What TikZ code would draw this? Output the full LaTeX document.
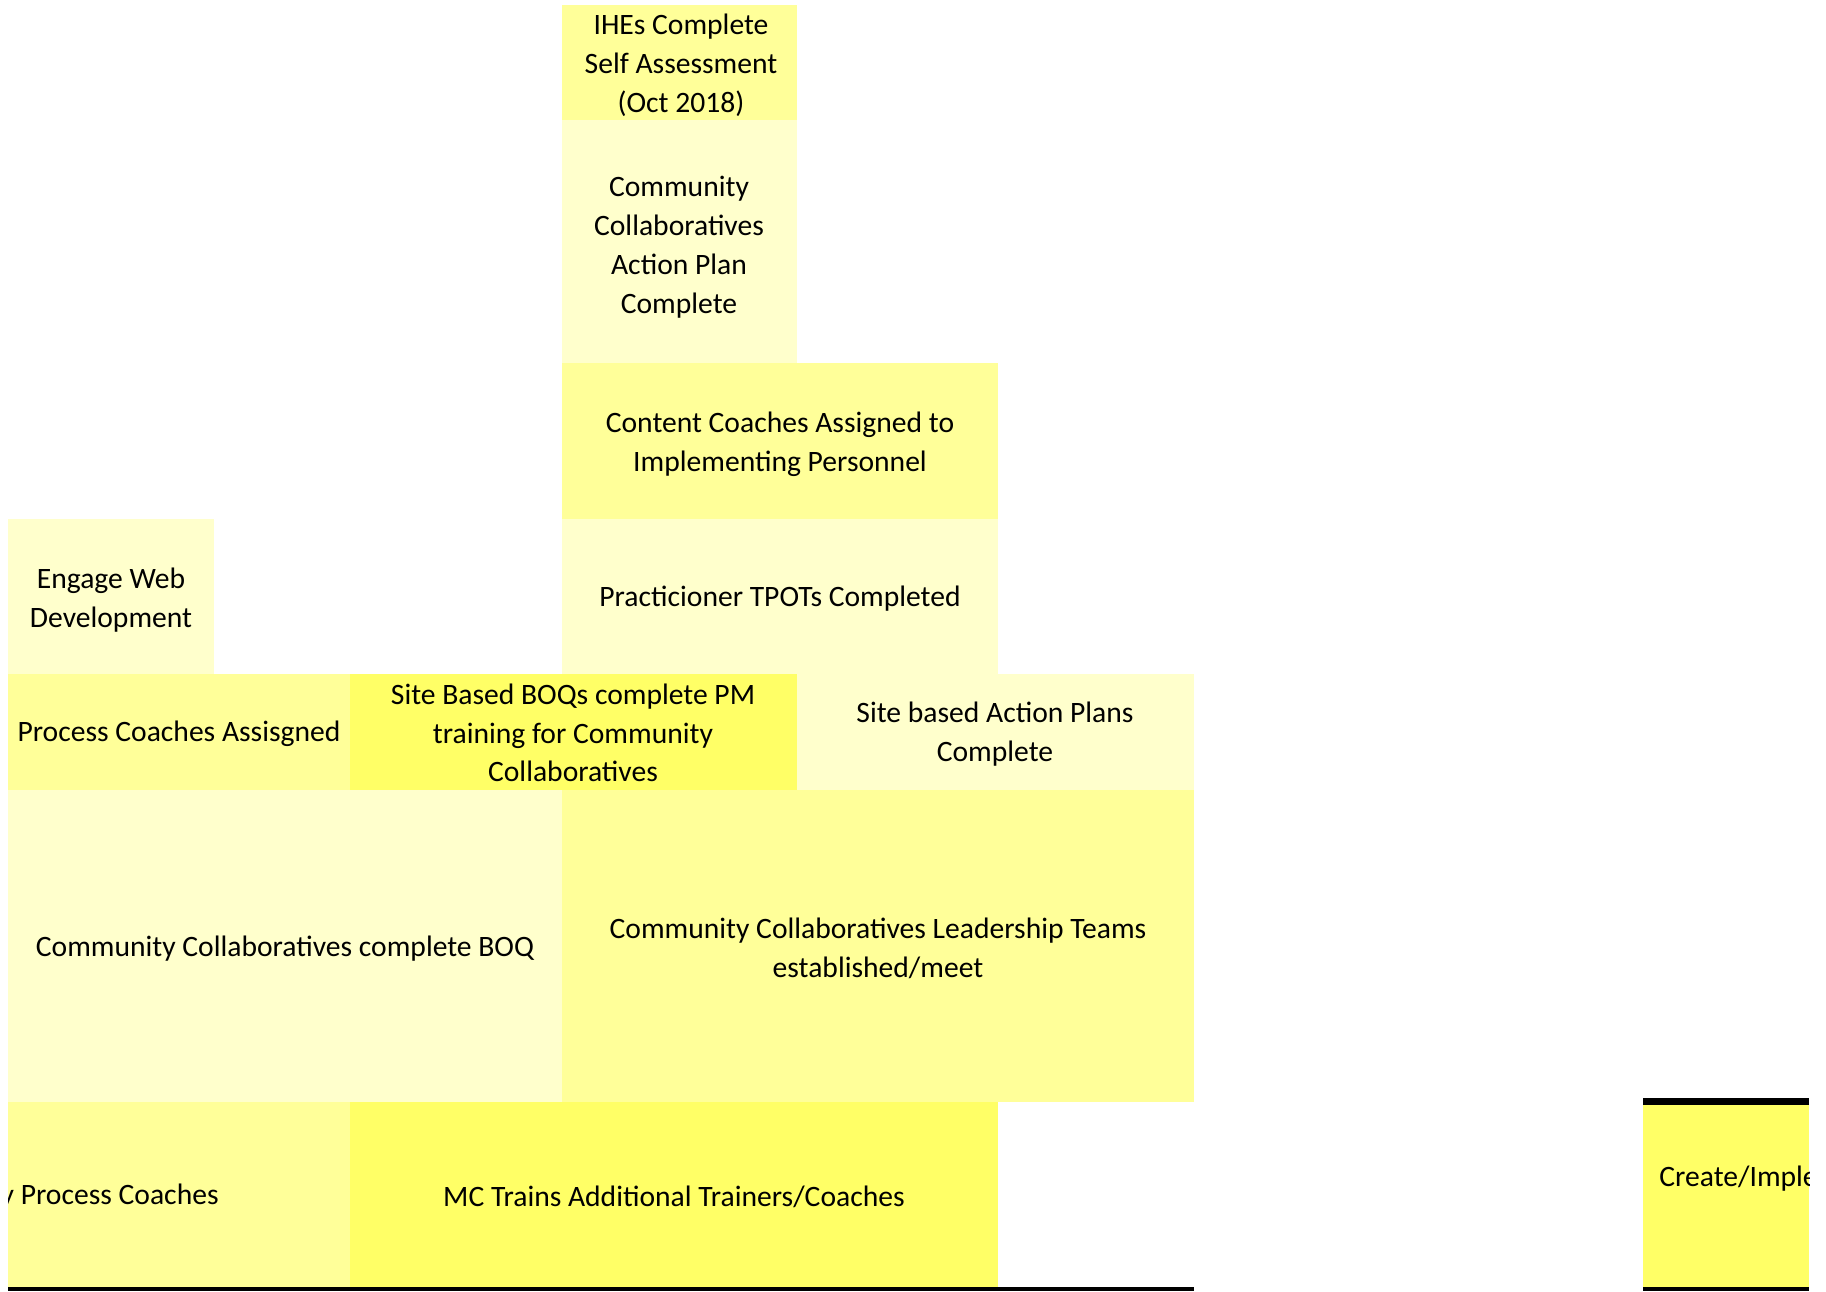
\documentclass[tikz,border=0pt]{standalone}
\usepackage{fontspec}
\setmainfont{Carlito}
\definecolor{ylA}{HTML}{FFFFCC}
\definecolor{ylB}{HTML}{FFFF99}
\definecolor{ylC}{HTML}{FFFF66}
\begin{document}
\begin{tikzpicture}[x=0.5pt,y=-0.5pt,
  lbl/.style={font=\fontsize{14.8}{19.4}\selectfont, align=center, inner sep=0pt, text=black}]
\useasboundingbox (0,0) rectangle (1826,1291);
% boxes
\fill[ylB] (562,5) rectangle (797,120);
\fill[ylA] (562,120) rectangle (797,363);
\fill[ylB] (562,363) rectangle (998,519);
\fill[ylA] (562,519) rectangle (998,674);
\fill[ylA] (8,519) rectangle (214,674);
\fill[ylB] (8,674) rectangle (350,790);
\fill[ylC] (350,674) rectangle (797,790);
\fill[ylA] (797,674) rectangle (1194,790);
\fill[ylA] (8,790) rectangle (562,1102);
\fill[ylB] (562,790) rectangle (1194,1102);
\fill[ylB] (8,1102) rectangle (350,1287);
\fill[ylC] (350,1102) rectangle (998,1287);
\fill[ylC] (1643,1105) rectangle (1809,1287);
% black rules
\fill[black] (8,1287) rectangle (1194,1291);
\fill[black] (1643,1098) rectangle (1809,1105);
\fill[black] (1643,1287) rectangle (1809,1291);
% texts
\node[lbl] (ihe) at (681,65) {IHEs Complete\\Self Assessment\\(Oct 2018)};
\node[lbl] (ccap) at (679,247) {Community\\Collaboratives\\Action Plan\\Complete};
\node[lbl] (cca) at (780,444) {Content Coaches Assigned to\\Implementing Personnel};
\node[lbl] (tpot) at (780,599) {Practicioner TPOTs Completed};
\node[lbl] (web) at (111,600) {Engage Web\\Development};
\node[lbl] (pca) at (179,734) {Process Coaches Assisgned};
\node[lbl] (boq) at (573,733) {Site Based BOQs complete PM\\training for Community\\Collaboratives};
\node[lbl] (sap) at (995,734) {Site based Action Plans\\Complete};
\node[lbl] (ccboq) at (285,949) {Community Collaboratives complete BOQ};
\node[lbl] (lead) at (878,948) {Community Collaboratives Leadership Teams\\established/meet};
\node[lbl] (mc) at (674,1197) {MC Trains Additional Trainers/Coaches};
\begin{scope}
\clip (8,1102) rectangle (350,1287);
\node[lbl, anchor=east] (pc) at (219,1197) {y Process Coaches};
\end{scope}
\begin{scope}
\clip (1643,1105) rectangle (1809,1287);
\node[lbl, anchor=west] (create) at (1659,1179) {Create/Implement};
\end{scope}
\end{tikzpicture}
\end{document}
